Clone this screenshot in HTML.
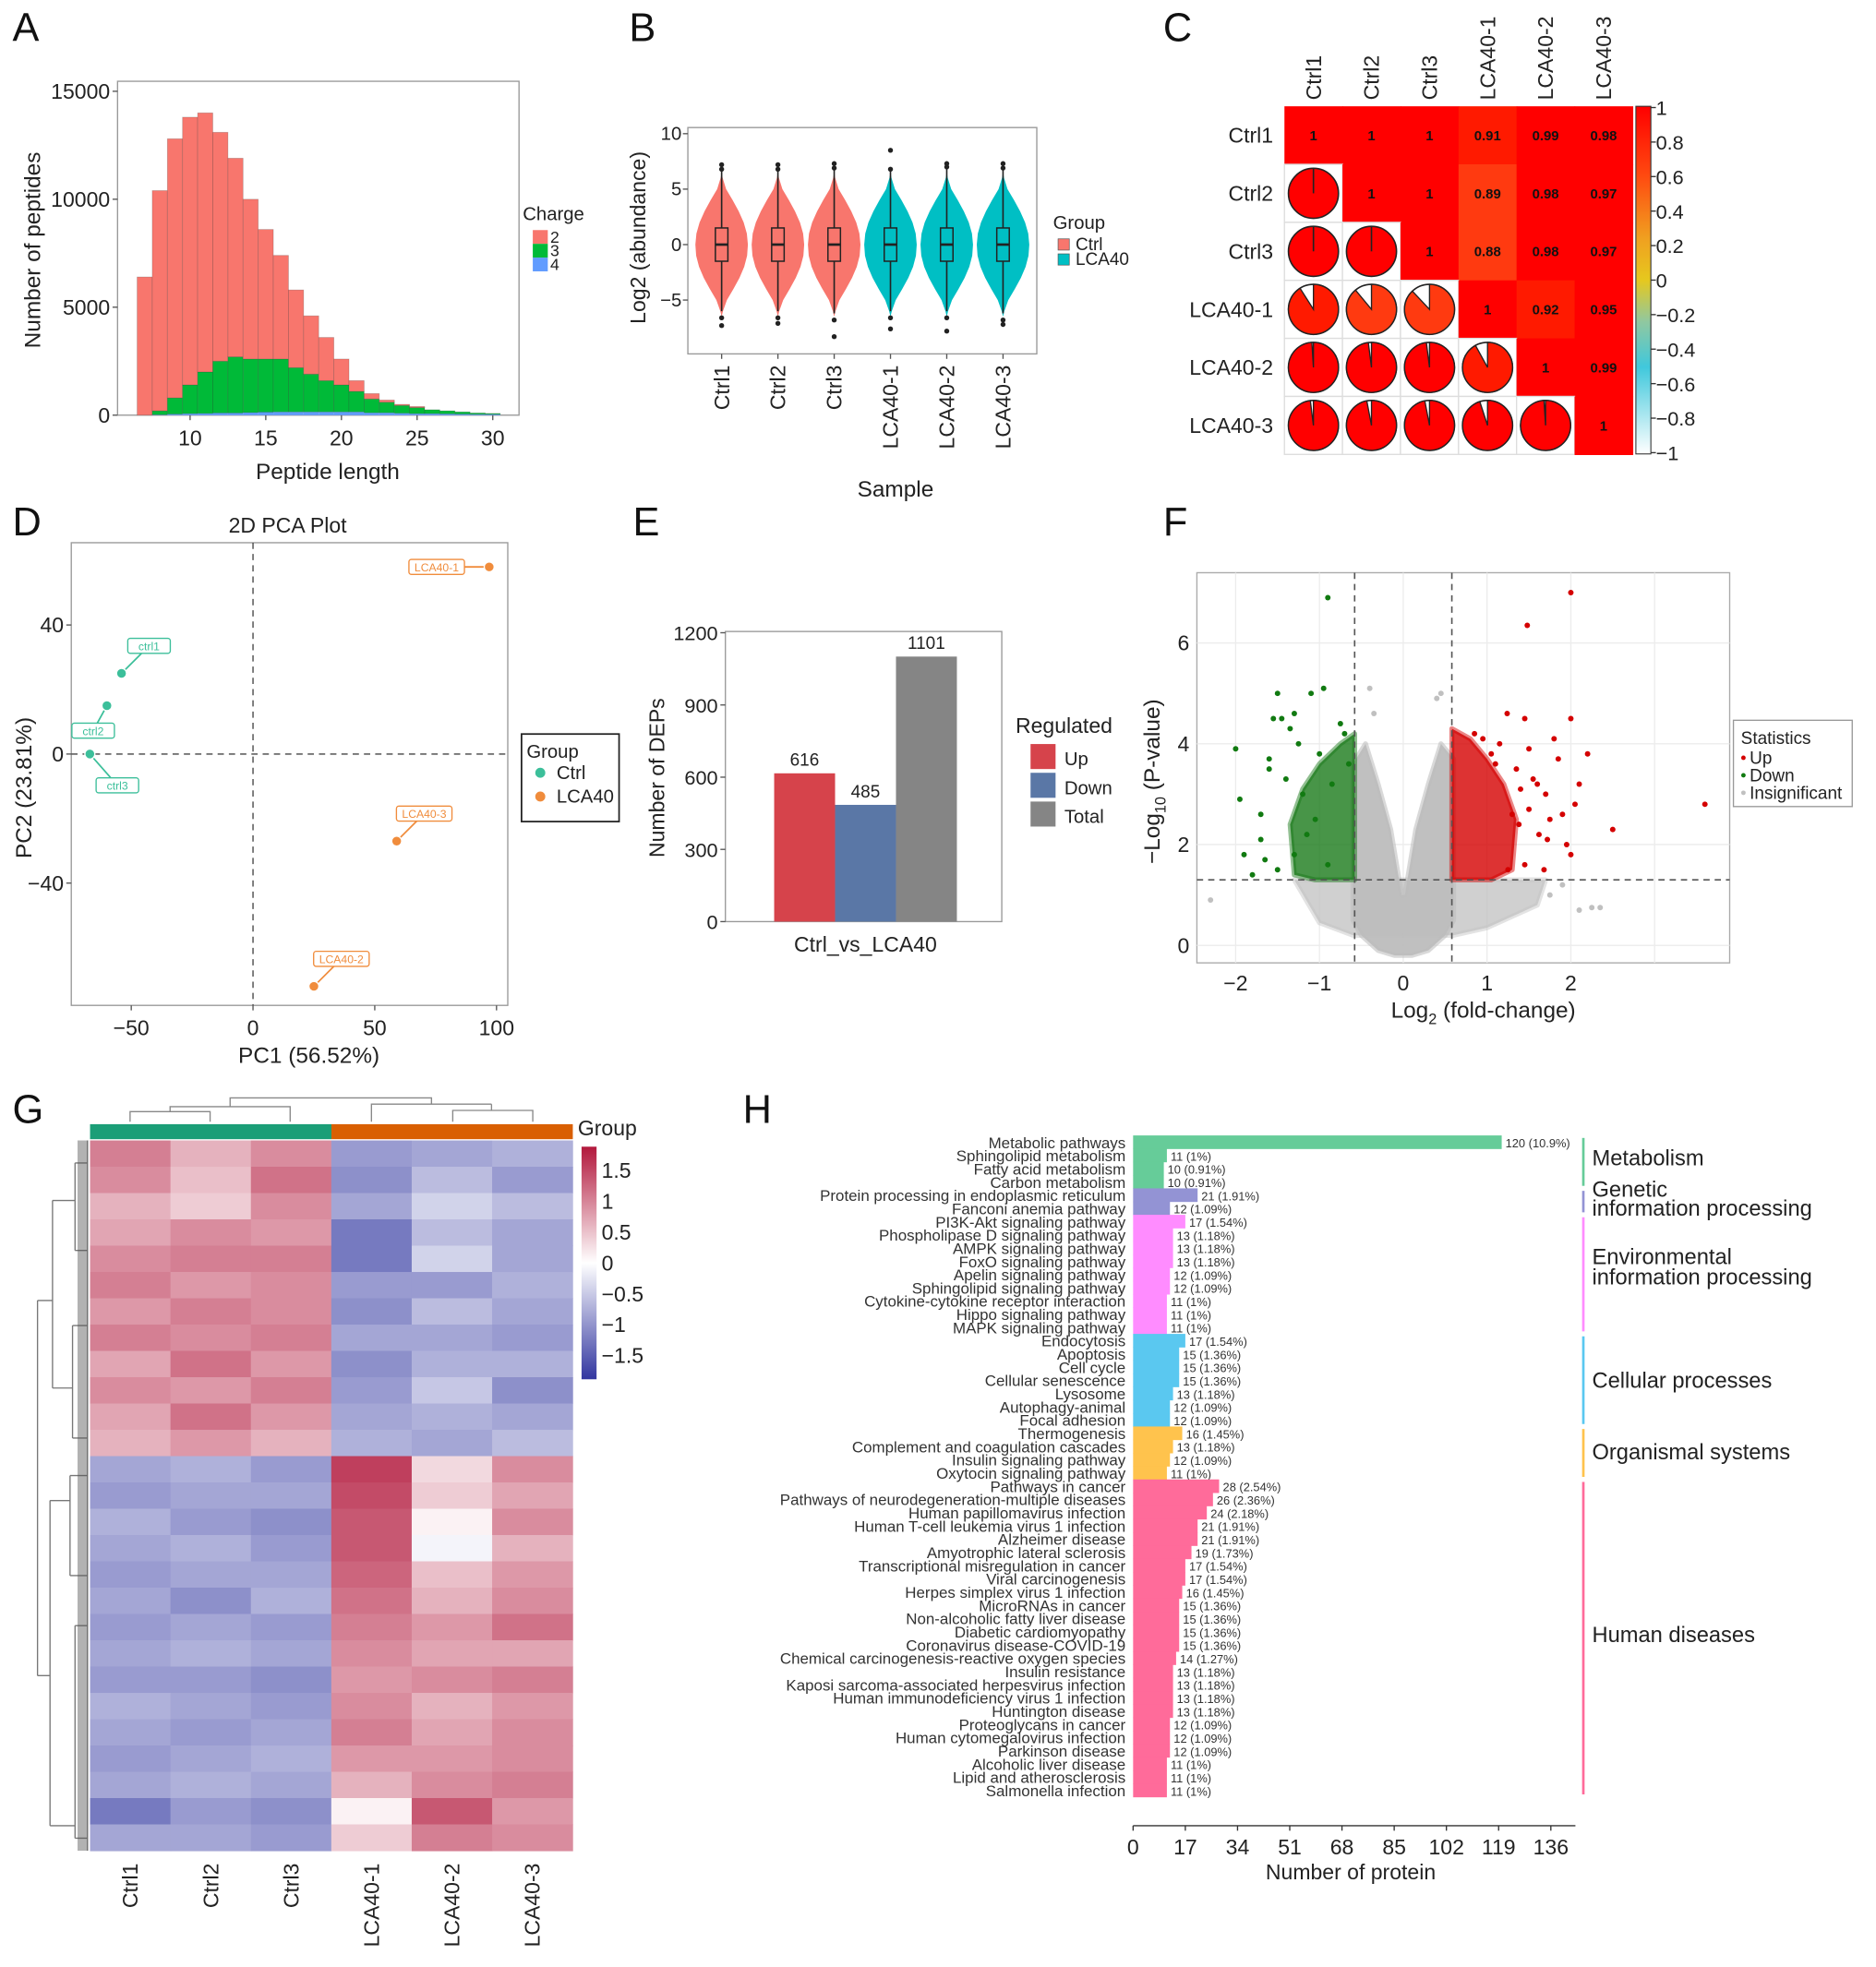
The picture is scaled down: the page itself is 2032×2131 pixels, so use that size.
<!DOCTYPE html>
<html><head><meta charset="utf-8">
<style>
html,body{margin:0;padding:0;background:#fff;}
svg{display:block;font-family:"Liberation Sans",Arial,sans-serif;}
</style></head>
<body>
<svg id="fig" width="2032" height="2131" viewBox="0 0 1500 1573" preserveAspectRatio="none" xmlns="http://www.w3.org/2000/svg">
<rect x="0" y="0" width="1500" height="1573" fill="#fff"/>
</svg>
<script>
// ---------- DATA ----------
// Panel A
const lengths=[7,8,9,10,11,12,13,14,15,16,17,18,19,20,21,22,23,24,25,26,27,28,29,30];
const charge2=[6400,10200,12000,12400,12000,10600,9200,7400,6000,4800,3600,2700,2000,1200,500,250,100,50,50,0,0,0,0,0];
const charge3=[0,180,750,1330,1920,2400,2600,2480,2460,2450,2050,1750,1450,1250,950,640,490,360,280,180,140,100,60,40];
const charge4=[0,20,50,70,80,100,100,120,140,150,150,150,150,150,150,110,110,90,70,70,60,50,40,40];
// Panel B
const samples=["Ctrl1","Ctrl2","Ctrl3","LCA40-1","LCA40-2","LCA40-3"];
const medians=[0,0,0,0,0,0];
const q1s=[-1.5,-1.5,-1.5,-1.5,-1.5,-1.5];
const q3s=[1.5,1.5,1.5,1.5,1.5,1.5];
const whiskLo=[-6,-6,-6.2,-6,-6,-6.2];
const whiskHi=[6.8,6.8,6.9,6.8,7,6.9];
const outLo=[-7.3,-7.1,-8.3,-7.6,-7.8,-7.2];
const outHi=[7.2,7.2,7.3,8.5,7.3,7.3];
const violinLevels=[-6,-5,-4,-3,-2,-1,0,1,2,3,4,5,6];
const violinDens=[0.05,0.2,0.45,0.68,0.86,0.97,1,0.96,0.84,0.65,0.42,0.17,0.04];
// Panel C
const corrNames=["Ctrl1","Ctrl2","Ctrl3","LCA40-1","LCA40-2","LCA40-3"];
const corr=[
[1,1,1,0.91,0.99,0.98],
[1,1,1,0.89,0.98,0.97],
[1,1,1,0.88,0.98,0.97],
[0.91,0.89,0.88,1,0.92,0.95],
[0.99,0.98,0.98,0.92,1,0.99],
[0.98,0.97,0.97,0.95,0.99,1]];
const cbarTicks=["1","0.8","0.6","0.4","0.2","0","−0.2","−0.4","−0.6","−0.8","−1"];
// Panel D
const pcaNames=["ctrl1","ctrl2","ctrl3","LCA40-1","LCA40-2","LCA40-3"];
const pc1=[-54,-60,-67,97,25,59];
const pc2=[25,15,0,58,-72,-27];
const pcaGroup=[0,0,0,1,1,1];
// Panel E
const depCats=["Up","Down","Total"];
const depVals=[616,485,1101];
// Panel F (volcano)
const upX=[2.0,1.48,1.24,1.45,2.0,3.6,2.5,1.8,2.2,1.85,1.5,1.35,1.6,1.7,2.1,2.05,1.9,1.75,1.55,1.4,1.3,1.62,1.95,2.0,1.45,1.68,1.15,1.05,0.95,1.38,1.72,1.25,1.1,0.85,1.5];
const upY=[7.0,6.35,4.6,4.5,4.5,2.8,2.3,4.1,3.8,3.7,3.9,3.5,3.2,3.0,3.2,2.8,2.6,2.5,3.3,3.1,2.6,2.2,2.0,1.8,1.6,1.5,4.0,3.8,4.1,2.4,2.1,1.5,3.6,4.2,2.7];
const downX=[-0.9,-2.0,-1.95,-1.9,-1.7,-1.6,-1.5,-1.45,-1.3,-1.1,-0.95,-0.7,-1.25,-1.35,-1.55,-1.6,-1.0,-0.85,-1.4,-1.2,-1.05,-1.8,-1.65,-1.5,-0.75,-0.65,-1.15,-1.3,-0.9,-1.7];
const downY=[6.9,3.9,2.9,1.8,2.1,3.5,5.0,4.5,4.6,5.0,5.1,4.2,4.0,4.3,4.5,3.7,3.8,3.2,3.3,3.0,2.5,1.4,1.7,1.5,4.4,3.6,2.2,1.8,1.6,2.6];
const greyX=[-2.3,2.1,2.25,2.35,1.75,-0.4,0.45,0.4,-0.35,1.9];
const greyY=[0.9,0.7,0.75,0.75,1.0,5.1,5.0,4.9,4.6,1.2];
const cloudX=[-0.6,-0.6,-0.45,-0.3,-0.15,-0.02,0.02,0.15,0.3,0.45,0.6,0.6,0.5,0.3,0.1,-0.1,-0.3,-0.5];
const cloudY=[0.5,3.6,4.0,3.2,2.3,1.0,1.0,2.3,3.2,4.0,3.7,0.5,0.2,-0.1,-0.2,-0.2,-0.1,0.2];
const lowX=[-1.3,-1.1,-0.6,0.6,1.2,1.7,1.6,1.0,0.6,-0.6,-1.0];
const lowY=[1.3,1.3,1.3,1.3,1.3,1.3,0.8,0.35,0.2,0.2,0.45];
const downAreaX=[-0.58,-0.58,-0.75,-1.0,-1.2,-1.35,-1.3,-1.05,-0.8];
const downAreaY=[1.3,4.2,4.0,3.6,3.1,2.4,1.4,1.3,1.3];
const upAreaX=[0.58,0.58,0.8,1.0,1.2,1.35,1.3,1.05,0.8];
const upAreaY=[1.3,4.3,4.1,3.7,3.2,2.5,1.5,1.3,1.3];
// Panel G (heatmap)
const hmCols=["Ctrl1","Ctrl2","Ctrl3","LCA40-1","LCA40-2","LCA40-3"];
const hmRows=[
[1.0,0.6,0.9,-0.9,-0.8,-0.7],[0.9,0.5,1.1,-1.0,-0.6,-0.9],[0.6,0.4,0.9,-0.8,-0.4,-0.6],
[0.7,0.9,0.8,-1.2,-0.6,-0.8],[0.9,1.0,1.0,-1.2,-0.4,-0.8],[1.0,0.8,0.9,-0.9,-0.9,-0.7],
[0.8,1.0,0.9,-1.0,-0.6,-0.8],[1.0,0.9,1.0,-0.8,-0.8,-0.9],[0.7,1.1,0.8,-1.0,-0.7,-0.7],
[0.9,0.8,1.0,-0.9,-0.5,-1.0],[0.7,1.1,0.8,-0.8,-0.7,-0.8],[0.6,0.8,0.6,-0.7,-0.8,-0.6],
[-0.8,-0.7,-0.9,1.5,0.3,0.9],[-0.9,-0.8,-0.8,1.4,0.4,0.7],[-0.7,-0.9,-1.0,1.3,0.1,0.9],
[-0.8,-0.7,-0.9,1.3,-0.1,0.6],[-0.9,-0.8,-0.8,1.2,0.5,0.8],[-0.8,-1.0,-0.7,1.1,0.6,0.9],
[-0.9,-0.8,-0.9,1.0,0.8,1.1],[-0.8,-0.7,-0.8,0.9,0.7,0.7],[-0.9,-0.9,-1.0,0.8,0.9,1.0],
[-0.7,-0.8,-0.9,0.9,0.6,0.8],[-0.8,-0.9,-0.8,1.0,0.7,0.9],[-0.9,-0.8,-0.7,0.8,0.8,0.9],
[-0.8,-0.7,-0.8,0.6,0.9,1.0],[-1.2,-0.9,-1.0,0.1,1.3,0.8],[-0.8,-0.8,-0.9,0.4,1.0,0.9]];
const hmTicks=[1.5,1,0.5,0,-0.5,-1,-1.5];
// Panel H
const pathNames=["Metabolic pathways","Sphingolipid metabolism","Fatty acid metabolism","Carbon metabolism","Protein processing in endoplasmic reticulum","Fanconi anemia pathway","PI3K-Akt signaling pathway","Phospholipase D signaling pathway","AMPK signaling pathway","FoxO signaling pathway","Apelin signaling pathway","Sphingolipid signaling pathway","Cytokine-cytokine receptor interaction","Hippo signaling pathway","MAPK signaling pathway","Endocytosis","Apoptosis","Cell cycle","Cellular senescence","Lysosome","Autophagy-animal","Focal adhesion","Thermogenesis","Complement and coagulation cascades","Insulin signaling pathway","Oxytocin signaling pathway","Pathways in cancer","Pathways of neurodegeneration-multiple diseases","Human papillomavirus infection","Human T-cell leukemia virus 1 infection","Alzheimer disease","Amyotrophic lateral sclerosis","Transcriptional misregulation in cancer","Viral carcinogenesis","Herpes simplex virus 1 infection","MicroRNAs in cancer","Non-alcoholic fatty liver disease","Diabetic cardiomyopathy","Coronavirus disease-COVID-19","Chemical carcinogenesis-reactive oxygen species","Insulin resistance","Kaposi sarcoma-associated herpesvirus infection","Human immunodeficiency virus 1 infection","Huntington disease","Proteoglycans in cancer","Human cytomegalovirus infection","Parkinson disease","Alcoholic liver disease","Lipid and atherosclerosis","Salmonella infection"];
const pathCounts=[120,11,10,10,21,12,17,13,13,13,12,12,11,11,11,17,15,15,15,13,12,12,16,13,12,11,28,26,24,21,21,19,17,17,16,15,15,15,15,14,13,13,13,13,12,12,12,11,11,11];
const pathTotal=1101;
const classNames=["Metabolism","Genetic information processing","Environmental information processing","Cellular processes","Organismal systems","Human diseases"];
const classStart=[0,4,6,15,22,26];
const classEnd=[3,5,14,21,25,49];
const hTicks=[0,17,34,51,68,85,102,119,136];

// ---------- HELPERS ----------
const NS="http://www.w3.org/2000/svg";
const svg=document.getElementById('fig');
function mk(tag,attrs,parent){const e=document.createElementNS(NS,tag);for(const k in attrs)e.setAttribute(k,attrs[k]);(parent||svg).appendChild(e);return e;}
function txt(s,x,y,size,anchor,parent,extra){const e=mk('text',Object.assign({x:x,y:y,'font-size':size,'text-anchor':anchor||'start',fill:'#222'},extra||{}),parent);e.textContent=s;return e;}
function grp(name){const g=mk('g',{});return g;}

const letters=[["A",10,33],["B",503,33],["C",930,33],["D",10,428],["E",506,428],["F",930,428],["G",10,898],["H",594,898]];
for(const L of letters){const t=txt(L[0],L[1],L[2],32,'start',svg,{fill:'#111'});}

// ---------- PANEL A ----------
(function(){
const g=grp('panel-a-peptide-length');
const ay=v=>332-v*259/15000, ax=l=>152+(l-10)*12.1;
const box=mk('rect',{x:94,y:65,width:321,height:267,fill:'none',stroke:'#999','stroke-width':1},g);

[0,5000,10000,15000].forEach(v=>{mk('line',{x1:90,x2:94,y1:ay(v),y2:ay(v),stroke:'#555'},g);const t=txt(String(v),88,ay(v)+6,17,'end',g);});
[10,15,20,25,30].forEach(v=>{mk('line',{x1:ax(v),x2:ax(v),y1:332,y2:336,stroke:'#555'},g);const t=txt(String(v),ax(v),356,17,'middle',g);});
lengths.forEach((l,i)=>{
 const x0=ax(l-0.5),w=12.1;
 const b4=charge4[i],b3=charge3[i],b2=charge2[i];
 let r=mk('rect',{x:x0,y:ay(b4),width:w,height:ay(0)-ay(b4),fill:'#619cff'},g);
 
 r=mk('rect',{x:x0,y:ay(b4+b3),width:w,height:ay(b4)-ay(b4+b3),fill:'#00ba38',stroke:'#333','stroke-opacity':0.25,'stroke-width':0.6},g);
 
 r=mk('rect',{x:x0,y:ay(b4+b3+b2),width:w,height:ay(b4+b3)-ay(b4+b3+b2),fill:'#f8766d',stroke:'#333','stroke-opacity':0.25,'stroke-width':0.6},g);
 
});
let t=txt('Peptide length',262,383,18,'middle',g);
t=txt('Number of peptides',32,200,18,'middle',g,{transform:'rotate(-90 32 200)'});
t=txt('Charge',418,176,15,'start',g);
[['2','#f8766d'],['3','#00ba38'],['4','#619cff']].forEach((c,i)=>{const r=mk('rect',{x:426,y:184+i*11,width:12,height:11,fill:c[1]},g);const tt=txt(c[0],440,194+i*11,13,'start',g);});
})();

// ---------- PANEL B ----------
(function(){
const g=grp('panel-b-violin');
const by=v=>195.6-v*8.87, bx=i=>577+i*45;
const f=mk('rect',{x:550,y:102,width:279,height:181,fill:'none',stroke:'#999'},g);
[10,5,0,-5].forEach(v=>{mk('line',{x1:546,x2:550,y1:by(v),y2:by(v),stroke:'#555'},g);const t=txt(String(v).replace('-','−'),545,by(v)+5,15,'end',g);});
samples.forEach((s,i)=>{
 const col=i<3?'#f8766d':'#00bfc4', cx=bx(i);
 let d='M'+cx+','+by(violinLevels[0]-0.5);
 violinLevels.forEach((lv,k)=>{d+=' L'+(cx+violinDens[k]*21)+','+by(lv);});
 d+=' L'+cx+','+by(violinLevels[violinLevels.length-1]+0.5);
 for(let k=violinLevels.length-1;k>=0;k--){d+=' L'+(cx-violinDens[k]*21)+','+by(violinLevels[k]);}
 d+='Z';
 let p=mk('path',{d:d,fill:col,'stroke-linejoin':'round'},g);
 let l=mk('line',{x1:cx,x2:cx,y1:by(whiskLo[i]),y2:by(whiskHi[i]),stroke:'#222','stroke-width':1.2},g);
 let r=mk('rect',{x:cx-5,y:by(q3s[i]),width:10,height:by(q1s[i])-by(q3s[i]),fill:col,stroke:'#222','stroke-width':1.1},g);
 l=mk('line',{x1:cx-5,x2:cx+5,y1:by(medians[i]),y2:by(medians[i]),stroke:'#222','stroke-width':2},g);
 [outLo[i],outHi[i],whiskHi[i],whiskLo[i]-0.6].forEach(v=>{const c=mk('circle',{cx:cx,cy:by(v),r:2,fill:'#222'},g);});
 mk('line',{x1:cx,x2:cx,y1:283,y2:287,stroke:'#555'},g);
 const t=txt(s,cx+6,292,17,'end',g,{transform:'rotate(-90 '+(cx+6)+' 292)'});
});
let t=txt('Sample',716,397,18,'middle',g);
t=txt('Log2 (abundance)',516,190,17,'middle',g,{transform:'rotate(-90 516 190)'});
t=txt('Group',842,183,15,'start',g);
[['Ctrl','#f8766d'],['LCA40','#00bfc4']].forEach((c,i)=>{const r=mk('rect',{x:846,y:191+i*12,width:9,height:9,fill:c[1],stroke:'#555','stroke-width':0.5},g);const tt=txt(c[0],860,200+i*12,14,'start',g);});
})();

// ---------- PANEL C ----------
(function(){
const g=grp('panel-c-correlation');
const x0=1027,y0=85,cs=46.4;
const col=v=>v>=0.95?'#ff0000':(v>=0.9?'#ff1a00':'#ff3a10');
corrNames.forEach((n,i)=>{
 const t=txt(n,1018,y0+cs*i+cs/2+6,17,'end',g);
 const cx=x0+cs*i+cs/2+6;
 const t2=txt(n,cx,80,17,'start',g,{transform:'rotate(-90 '+cx+' 80)'});
});
corrNames.forEach((ri,i)=>{corrNames.forEach((cj,j)=>{
 const x=x0+cs*j,y=y0+cs*i,v=corr[i][j];
 if(j>=i){
  const r=mk('rect',{x:x,y:y,width:cs+0.5,height:cs+0.5,fill:col(v)},g);
  const t=txt(String(v),x+cs/2,y+cs/2+4,11,'middle',g,{fill:'#111','font-weight':'bold'});
 } else {
  const r=mk('rect',{x:x,y:y,width:cs,height:cs,fill:'#fff',stroke:'#ddd'},g);
  const cx=x+cs/2,cy=y+cs/2,R=20;
  const c=mk('circle',{cx:cx,cy:cy,r:R,fill:v>=0.999?col(v):'#fff',stroke:'#222','stroke-width':1.2},g);
  if(v<0.999){
   const a=2*Math.PI*v, large=v>0.5?1:0;
   const ex=cx+R*Math.sin(a), ey=cy-R*Math.cos(a);
   const p=mk('path',{d:'M'+cx+','+cy+' L'+cx+','+(cy-R)+' A'+R+','+R+' 0 '+large+' 1 '+ex+','+ey+' Z',fill:col(v),stroke:'#222','stroke-width':1},g);
  } else {
   const l=mk('line',{x1:cx,y1:cy,x2:cx,y2:cy-R,stroke:'#222','stroke-width':1.2},g);
  }
 }
});});
const defs=mk('defs',{});const lg=mk('linearGradient',{id:'cbarC',x1:0,y1:0,x2:0,y2:1},defs);
[['0','#ff0000'],['0.2','#ff4a10'],['0.38','#f0a020'],['0.5','#e6c81e'],['0.62','#90c8a0'],['0.75','#40c8dc'],['1','#ffffff']].forEach(s=>mk('stop',{offset:s[0],'stop-color':s[1]},lg));
const cb=mk('rect',{x:1308,y:85,width:12,height:278,fill:'url(#cbarC)',stroke:'#333','stroke-width':0.8},g);
cbarTicks.forEach((s,i)=>{const y=86+i*27.6;mk('line',{x1:1320,x2:1324,y1:y,y2:y,stroke:'#333'},g);const t=txt(s,1324,y+6,16,'start',g);});
})();

// ---------- PANEL D ----------
(function(){
const g=grp('panel-d-pca');
const px=v=>202.3+v*1.947, py=v=>603-v*2.58;
const f=mk('rect',{x:57,y:434,width:349,height:370,fill:'none',stroke:'#999'},g);
let t=txt('2D PCA Plot',230,426,17,'middle',g);
mk('line',{x1:px(0),x2:px(0),y1:434,y2:804,stroke:'#444','stroke-dasharray':'5,4'},g);
mk('line',{x1:57,x2:406,y1:py(0),y2:py(0),stroke:'#444','stroke-dasharray':'5,4'},g);
[-50,0,50,100].forEach(v=>{mk('line',{x1:px(v),x2:px(v),y1:804,y2:808,stroke:'#555'},g);const tt=txt(String(v).replace('-','−'),px(v),828,17,'middle',g);});
[40,0,-40].forEach(v=>{mk('line',{x1:53,x2:57,y1:py(v),y2:py(v),stroke:'#555'},g);const tt=txt(String(v).replace('-','−'),51,py(v)+6,17,'end',g);});
t=txt('PC1 (56.52%)',247,850,18,'middle',g);
t=txt('PC2 (23.81%)',25,630,18,'middle',g,{transform:'rotate(-90 25 630)'});
const cols=['#3cbf9a','#f08c3c'];
const offs=[[22,-22],[-11,20],[22,25],[-42,0],[22,-22],[22,-22]];
pcaNames.forEach((n,i)=>{
 const x=px(pc1[i]),y=py(pc2[i]),c=cols[pcaGroup[i]];
 const lx=x+offs[i][0],ly=y+offs[i][1];
 mk('line',{x1:x,y1:y,x2:lx,y2:ly,stroke:c,'stroke-width':1.3},g);
 const w=n.length*5.2+8;
 const r=mk('rect',{x:lx-w/2,y:ly-6,width:w,height:12,rx:2,fill:'#fff',stroke:c},g);
 const tt=txt(n,lx,ly+3.5,9,'middle',g,{fill:c});
 const p=mk('circle',{cx:x,cy:y,r:4,fill:c,stroke:'#fff','stroke-width':1},g);
});
const lb=mk('rect',{x:417,y:587,width:78,height:70,fill:'#fff',stroke:'#222','stroke-width':1.3},g);
t=txt('Group',421,606,15,'start',g);
[['Ctrl',cols[0]],['LCA40',cols[1]]].forEach((c,i)=>{const cc=mk('circle',{cx:432,cy:618+i*19,r:4,fill:c[1]},g);const tt=txt(c[0],445,623+i*19,15,'start',g);});
})();

// ---------- PANEL E ----------
(function(){
const g=grp('panel-e-dep-bars');
const ey=v=>737-v*0.1925;
const f=mk('rect',{x:580,y:505,width:221,height:232,fill:'none',stroke:'#999'},g);
[0,300,600,900,1200].forEach(v=>{mk('line',{x1:576,x2:580,y1:ey(v),y2:ey(v),stroke:'#555'},g);const t=txt(String(v),574,ey(v)+6,16,'end',g);});
const cols=['#d6434b','#5a77a6','#858585'];
depCats.forEach((c,i)=>{const x=619+i*48.7;const r=mk('rect',{x:x,y:ey(depVals[i]),width:48.7,height:ey(0)-ey(depVals[i]),fill:cols[i]},g);const t=txt(String(depVals[i]),x+24.3,ey(depVals[i])-6,14,'middle',g);});
let t=txt('Ctrl_vs_LCA40',692,761,17,'middle',g);
t=txt('Number of DEPs',531,622,17,'middle',g,{transform:'rotate(-90 531 622)'});
t=txt('Regulated',812,586,17,'start',g);
depCats.forEach((c,i)=>{const r=mk('rect',{x:824,y:595+i*23,width:20,height:20,fill:cols[i]},g);const tt=txt(c,851,612+i*23,15,'start',g);});
})();

// ---------- PANEL F ----------
(function(){
const g=grp('panel-f-volcano');
const vx=v=>1122+v*67, vy=v=>756-v*40.3;
const f=mk('rect',{x:957,y:458,width:426,height:312,fill:'#fff',stroke:'#aaa'},g);
[-2,-1,0,1,2,3].forEach(v=>mk('line',{x1:vx(v),x2:vx(v),y1:458,y2:770,stroke:'#ececec'},g));
[0,2,4,6].forEach(v=>mk('line',{x1:957,x2:1383,y1:vy(v),y2:vy(v),stroke:'#ececec'},g));
const poly=(xs,ys,fill,name,op)=>{const pts=xs.map((x,i)=>vx(x)+','+vy(ys[i])).join(' ');const p=mk('polygon',{points:pts,fill:fill,'fill-opacity':op,'stroke':fill,'stroke-width':4,'stroke-linejoin':'round','stroke-opacity':op*0.6},g);};
poly(lowX,lowY,'#c4c4c4','insignificant-low-cloud',0.8);
poly(cloudX,cloudY,'#bdbdbd','insignificant-cloud',0.95);
poly(downAreaX,downAreaY,'#1a7a1a','down-density',0.8);
poly(upAreaX,upAreaY,'#d40000','up-density',0.8);
const pts=(xs,ys,c,name)=>xs.forEach((x,i)=>{const p=mk('circle',{cx:vx(x),cy:vy(ys[i]),r:2.2,fill:c},g);});
pts(greyX,greyY,'#c0c0c0','point-insignificant');pts(upX,upY,'#d40000','point-up');pts(downX,downY,'#117a11','point-down');
mk('line',{x1:vx(-0.58),x2:vx(-0.58),y1:458,y2:770,stroke:'#555','stroke-dasharray':'5,4','stroke-width':1.2},g);
mk('line',{x1:vx(0.58),x2:vx(0.58),y1:458,y2:770,stroke:'#555','stroke-dasharray':'5,4','stroke-width':1.2},g);
mk('line',{x1:957,x2:1383,y1:vy(1.3),y2:vy(1.3),stroke:'#555','stroke-dasharray':'5,4','stroke-width':1.2},g);
[-2,-1,0,1,2].forEach(v=>{const t=txt(String(v).replace('-','−'),vx(v),792,17,'middle',g);});
[0,2,4,6].forEach(v=>{const t=txt(String(v),951,vy(v)+6,17,'end',g);});
let t=mk('text',{x:1186,y:814,'font-size':18,'text-anchor':'middle',fill:'#222'},g);t.innerHTML='Log<tspan font-size="12" dy="5">2</tspan><tspan dy="-5"> (fold-change)</tspan>';
t=mk('text',{x:0,y:0,'font-size':18,'text-anchor':'middle',fill:'#222',transform:'translate(927 625) rotate(-90)'},g);t.innerHTML='−Log<tspan font-size="12" dy="5">10</tspan><tspan dy="-5"> (P-value)</tspan>';
const lb=mk('rect',{x:1386,y:576,width:95,height:69,fill:'#fff',stroke:'#999'},g);
t=txt('Statistics',1392,595,14,'start',g);
[['Up','#d40000'],['Down','#117a11'],['Insignificant','#c0c0c0']].forEach((c,i)=>{const cc=mk('circle',{cx:1394,cy:606+i*14,r:1.8,fill:c[1]},g);const tt=txt(c[0],1399,611+i*14,14,'start',g);});
})();

// ---------- PANEL G ----------
(function(){
const g=grp('panel-g-heatmap');
const x0=72,y0=912,cw=64.3,rh=568/hmRows.length;
const lerp=(a,b,t)=>Math.round(a+(b-a)*t);
const color=v=>{const t=Math.max(-1,Math.min(1,v/1.8));if(t>=0)return 'rgb('+lerp(255,178,t)+','+lerp(255,24,t)+','+lerp(255,60,t)+')';const s=-t;return 'rgb('+lerp(255,50,s)+','+lerp(255,55,s)+','+lerp(255,160,s)+')';};
hmRows.forEach((row,i)=>row.forEach((v,j)=>{const r=mk('rect',{x:x0+j*cw,y:y0+i*rh,width:cw+0.4,height:rh+0.4,fill:color(v)},g);}));
let r=mk('rect',{x:72,y:899,width:193,height:12,fill:'#1b9e77'},g);
r=mk('rect',{x:265,y:899,width:193,height:12,fill:'#d95f02'},g);
let t=txt('Group',462,908,17,'start',g);
const dg=mk('path',{d:'M104,897 V889 H168 V897 M136,889 V885 H232 V897 M184,885 V878 H345 V883 M297,897 V883 H393 M345,883 V883 M362,897 V888 H426 V897 M393,888 V883',fill:'none',stroke:'#888','stroke-width':1},g);
const rd=mk('path',{d:'M70,912 V1480 M30,1040 V1340 M30,1040 H42 M30,1340 H40 M42,960 V1110 M42,960 H60 M42,1110 H58 M40,1200 V1460 M40,1200 H56 M40,1460 H60 M60,930 V1000 M58,1060 V1150 M56,1180 V1260 M60,1300 V1470 M60,930 H70 M60,1000 H70 M58,1060 H70 M58,1150 H70 M56,1180 H70 M56,1260 H70 M60,1300 H70 M60,1470 H70',fill:'none',stroke:'#777','stroke-width':1},g);
const rd2=mk('rect',{x:62,y:912,width:8,height:568,fill:'#555','fill-opacity':0.45},g);
hmCols.forEach((c,j)=>{const cx=x0+j*cw+cw/2+6;const tt=txt(c,cx,1490,17,'end',g,{transform:'rotate(-90 '+cx+' 1490)'});});
const defs=mk('defs',{});const lg=mk('linearGradient',{id:'cbarG',x1:0,y1:0,x2:0,y2:1},defs);
[['0','#b2183c'],['0.5','#ffffff'],['1','#3236a0']].forEach(s=>mk('stop',{offset:s[0],'stop-color':s[1]},lg));
const cb=mk('rect',{x:465,y:917,width:12,height:186,fill:'url(#cbarG)'},g);
hmTicks.forEach(v=>{const y=1010-v*49.3;const tt=txt(String(v).replace('-','−'),481,y+6,17,'start',g);});
})();

// ---------- PANEL H ----------
(function(){
const g=grp('panel-h-kegg');
const hx=v=>906+v*2.456, y0=908, rh=(1437-908)/pathNames.length;
const cls=['#66cc99','#9393d4','#ff8cff','#5ac8f0','#ffc34d','#ff6b9a'];
const classOf=i=>{for(let k=0;k<classStart.length;k++)if(i>=classStart[k]&&i<=classEnd[k])return k;return 0;};
pathNames.forEach((n,i)=>{
 const y=y0+i*rh,v=pathCounts[i];
 const r=mk('rect',{x:hx(0),y:y,width:hx(v)-hx(0),height:rh+0.3,fill:cls[classOf(i)]},g);
 const t=txt(n,900,y+rh-0.5,12.5,'end',g,{fill:'#333'});
 const pct=parseFloat((v/pathTotal*100).toFixed(2));
 const t2=txt(v+' ('+pct+'%)',hx(v)+3,y+rh-1,9.5,'start',g,{fill:'#333'});
});
classNames.forEach((c,k)=>{
 const ya=y0+classStart[k]*rh+2, yb=y0+(classEnd[k]+1)*rh-2;
 const l=mk('line',{x1:1266,x2:1266,y1:ya,y2:yb,stroke:cls[k],'stroke-width':2},g);
});
const lab=[["Metabolism",932],["Genetic",957],["information processing",972],["Environmental",1011],["information processing",1027],["Cellular processes",1110],["Organismal systems",1167],["Human diseases",1313]];
lab.forEach(L=>{const t=txt(L[0],1273,L[1],17.5,'start',g);});
mk('line',{x1:hx(0),x2:hx(144),y1:1460,y2:1460,stroke:'#333'},g);
hTicks.forEach(v=>{mk('line',{x1:hx(v),x2:hx(v),y1:1460,y2:1464,stroke:'#333'},g);const t=txt(String(v),hx(v),1483,17,'middle',g);});
const t=txt('Number of protein',1080,1503,17,'middle',g);
})();
</script>
</body></html>
